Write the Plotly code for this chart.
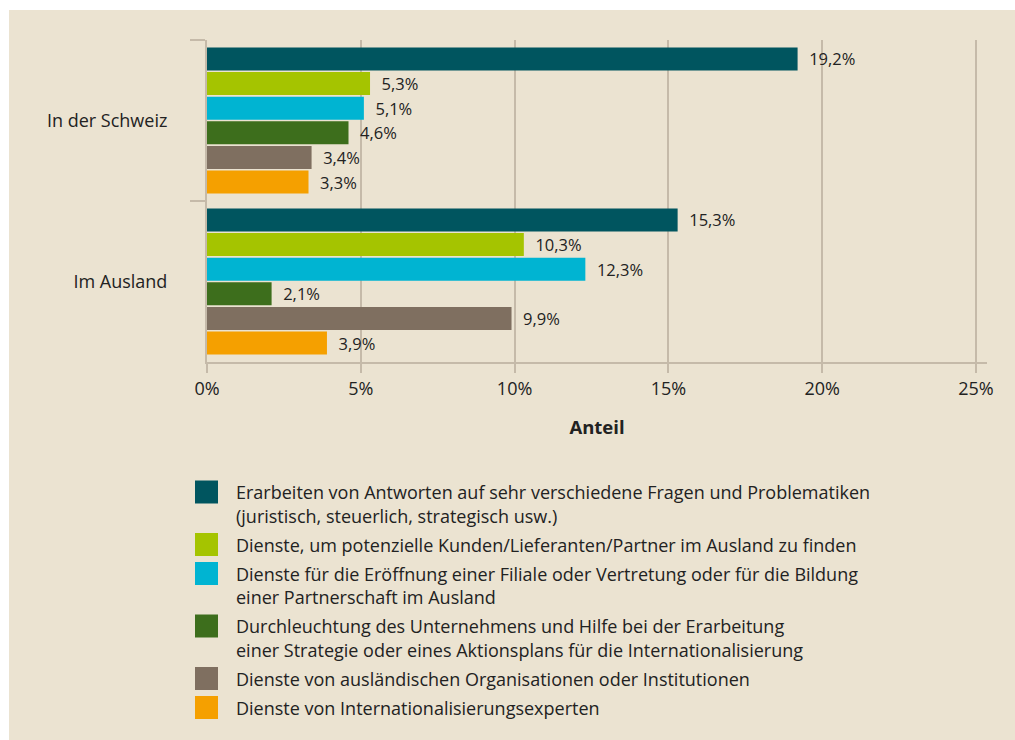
import plotly.graph_objects as go

categories = ["In der Schweiz", "Im Ausland"]
series_names = [
    "Erarbeiten von Antworten auf sehr verschiedene Fragen und Problematiken<br>(juristisch, steuerlich, strategisch usw.)",
    "Dienste, um potenzielle Kunden/Lieferanten/Partner im Ausland zu finden",
    "Dienste für die Eröffnung einer Filiale oder Vertretung oder für die Bildung<br>einer Partnerschaft im Ausland",
    "Durchleuchtung des Unternehmens und Hilfe bei der Erarbeitung<br>einer Strategie oder eines Aktionsplans für die Internationalisierung",
    "Dienste von ausländischen Organisationen oder Institutionen",
    "Dienste von Internationalisierungsexperten",
]
values_schweiz = [19.2, 5.3, 5.1, 4.6, 3.4, 3.3]
values_ausland = [15.3, 10.3, 12.3, 2.1, 9.9, 3.9]
colors = ["#00555f", "#a5c400", "#00b4d2", "#3d6e1c", "#7f6f60", "#f5a000"]
tick_vals = [0, 5, 10, 15, 20, 25]
tick_text = ["0%", "5%", "10%", "15%", "20%", "25%"]
axis_title = "Anteil"

BG = "#ebe3d1"
GRID = "#c5baa9"
TXT = "#222222"
FONT = "Open Sans"

W, H = 1015, 740
# plot area in page pixels
L, R, T, B = 207, 987, 40, 362


def px_x(x):
    return (x - L) / (R - L)


def px_y(y):
    return (B - y) / (B - T)


fig = go.Figure()
for i, name in enumerate(series_names):
    vals = [values_schweiz[i], values_ausland[i]]
    fig.add_trace(go.Bar(
        orientation="h",
        y=categories,
        x=vals,
        name=name.replace("<br>", " "),
        marker=dict(color=colors[i], line=dict(width=0)),
        text=["\u00a0\u00a0" + f"{v:.1f}".replace(".", ",") + "%" for v in vals],
        textposition="outside",
        constraintext="none",
        cliponaxis=False,
        textfont=dict(family=FONT, size=16.5, color=TXT),
        showlegend=False,
        hoverinfo="skip",
    ))

shapes = []
annotations = []
# white outer border strips (left and top)
shapes.append(dict(type="rect", xref="paper", yref="paper",
                   x0=px_x(0), x1=px_x(9), y0=px_y(H), y1=px_y(0),
                   fillcolor="white", line=dict(width=0), layer="below"))
shapes.append(dict(type="rect", xref="paper", yref="paper",
                   x0=px_x(0), x1=px_x(W), y0=px_y(10), y1=px_y(0),
                   fillcolor="white", line=dict(width=0), layer="below"))

# custom legend (page pixel positions)
line_h = 23.5
gap = 5.5
y_cur = 492
for i, name in enumerate(series_names):
    lines = name.split("<br>")
    shapes.append(dict(type="rect", xref="paper", yref="paper",
                       x0=px_x(195), x1=px_x(218),
                       y0=px_y(y_cur + 11.5), y1=px_y(y_cur - 11.5),
                       fillcolor=colors[i], line=dict(width=0)))
    for j, ln in enumerate(lines):
        annotations.append(dict(
            xref="paper", yref="paper", x=px_x(234), y=px_y(y_cur + j * line_h),
            xanchor="left", yanchor="middle", text=ln, showarrow=False,
            font=dict(family=FONT, size=18, color=TXT)))
    y_cur += len(lines) * line_h + gap

fig.update_layout(
    width=W, height=H,
    margin=dict(l=L, r=W - R, t=T, b=H - B, pad=0),
    paper_bgcolor=BG, plot_bgcolor=BG,
    barmode="group", bargap=0.083, bargroupgap=0.065,
    shapes=shapes, annotations=annotations,
    showlegend=False,
    font=dict(family=FONT, color=TXT),
)
fig.update_xaxes(
    range=[0, (R - L) / 30.76],
    tickvals=tick_vals, ticktext=tick_text,
    showgrid=True, gridcolor=GRID, gridwidth=1.5,
    showline=True, linecolor=GRID, linewidth=2,
    ticks="outside", ticklen=9, tickcolor=GRID, tickwidth=1.5,
    tickfont=dict(family=FONT, size=18, color=TXT),
    zeroline=False,
    title=dict(text="<b>" + axis_title + "</b>", font=dict(family=FONT, size=18.5, color=TXT), standoff=22),
)
fig.update_yaxes(
    autorange="reversed",
    showline=True, linecolor=GRID, linewidth=2,
    ticks="outside", ticklen=15, tickcolor=GRID, tickwidth=2,
    tickson="boundaries",
    tickfont=dict(family=FONT, size=18, color=TXT),
    ticklabelstandoff=34,
    showgrid=False,
)

fig.write_html("out.html", config={"displayModeBar": False},
               post_script="document.body.style.margin='0';")
